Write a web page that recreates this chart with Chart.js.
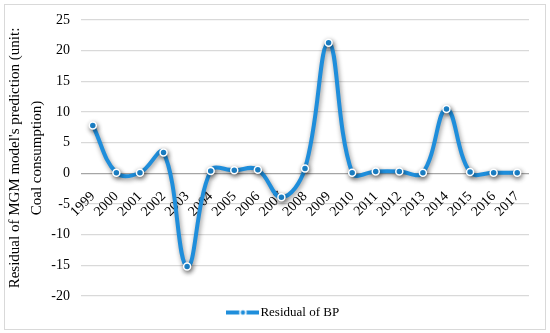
<!DOCTYPE html>
<html>
<head>
<meta charset="utf-8">
<script src="https://cdn.jsdelivr.net/npm/chart.js@4/dist/chart.umd.min.js"></script>
<style>
  html, body { margin: 0; padding: 0; background: #ffffff; }
  #wrap { width: 550px; height: 333px; position: relative; }
</style>
</head>
<body>
<div id="wrap"><canvas id="c" width="550" height="333"></canvas></div>
<script>
const years = ['1999','2000','2001','2002','2003','2004','2005','2006','2007','2008','2009','2010','2011','2012','2013','2014','2015','2016','2017'];
const residualBP = [7.8, 0.1, 0.1, 3.4, -15.2, 0.4, 0.5, 0.6, -3.9, 0.8, 21.3, 0.1, 0.3, 0.3, 0.1, 10.5, 0.2, 0.1, 0.1];
const seriesName = 'Residual of BP';
const yTitle = ["Residual of MGM model's prediction (unit:", 'Coal consumption)'];
const yMin = -20, yMax = 25, yStep = 5;

const BLUE = '#1f8edb';
const FONT = '"Liberation Serif", "Times New Roman", serif';

// legend symbol: line with a dot
const sym = document.createElement('canvas');
sym.width = 33; sym.height = 10;
(function () {
  const g = sym.getContext('2d');
  g.strokeStyle = BLUE; g.lineWidth = 4;
  g.beginPath(); g.moveTo(0, 5); g.lineTo(33, 5); g.stroke();
  g.fillStyle = BLUE; g.strokeStyle = '#ffffff'; g.lineWidth = 1.5;
  g.beginPath(); g.arc(16.5, 5, 3, 0, Math.PI * 2); g.fill(); g.stroke();
})();

const framePlugin = {
  id: 'frame',
  beforeDraw(chart) {
    const ctx = chart.ctx;
    ctx.save();
    ctx.fillStyle = '#ffffff';
    ctx.fillRect(0, 0, chart.width, chart.height);
    ctx.strokeStyle = '#d9d9d9';
    ctx.lineWidth = 1;
    ctx.strokeRect(4.5, 4.5, 541, 325);
    ctx.restore();
  }
};
const shadowPlugin = {
  id: 'shadow',
  beforeDatasetsDraw(chart) {
    const ctx = chart.ctx;
    ctx.save();
    ctx.shadowColor = 'rgba(0,0,0,0.45)';
    ctx.shadowBlur = 5;
    ctx.shadowOffsetX = 1;
    ctx.shadowOffsetY = 2;
  },
  afterDatasetsDraw(chart) {
    chart.ctx.restore();
  }
};
const legendShift = {
  id: 'legendShift',
  afterLayout(chart) {
    if (chart.legend) { chart.legend.left += 21; chart.legend.right += 21; }
  }
};

new Chart(document.getElementById('c'), {
  type: 'line',
  data: {
    labels: years,
    datasets: [{
      label: seriesName,
      data: residualBP,
      borderColor: BLUE,
      backgroundColor: BLUE,
      borderWidth: 4,
      tension: 0.4,
      pointRadius: 3.5,
      pointBackgroundColor: BLUE,
      pointBorderColor: '#ffffff',
      pointBorderWidth: 1.5,
      pointStyle: 'circle',
      fill: false
    }]
  },
  options: {
    responsive: false,
    animation: false,
    devicePixelRatio: 1,
    layout: { padding: { left: 0, right: 21, top: 20, bottom: 4 } },
    plugins: {
      legend: {
        position: 'bottom',
        labels: {
          usePointStyle: true,
          pointStyle: sym,
          pointStyleWidth: 22,
          color: '#000000',
          padding: 10,
          font: { family: FONT, size: 13 },
          generateLabels(chart) {
            return [{ text: seriesName, pointStyle: sym, fillStyle: BLUE, strokeStyle: BLUE, lineWidth: 0, datasetIndex: 0, hidden: false }];
          }
        }
      },
      tooltip: { enabled: false }
    },
    scales: {
      x: {
        type: 'category',
        position: { y: 0 },
        offset: true,
        grid: { display: false, drawTicks: false },
        border: { display: false },
        ticks: {
          autoSkip: false,
          minRotation: 45,
          maxRotation: 45,
          padding: 15,
          color: '#000000',
          font: { family: FONT, size: 14 }
        }
      },
      y: {
        min: yMin,
        max: yMax,
        afterFit(s) { s.width = 81; },
        grid: {
          drawTicks: false,
          color: (c) => (c.tick && c.tick.value === 0 ? '#a6a6a6' : '#d9d9d9'),
          lineWidth: 1.2
        },
        border: { display: false },
        ticks: {
          stepSize: yStep,
          padding: 11,
          color: '#000000',
          font: { family: FONT, size: 14 }
        },
        title: {
          display: true,
          text: yTitle,
          color: '#000000',
          padding: { top: 4, bottom: 0 },
          font: { family: FONT, size: 15, lineHeight: 1.47 }
        }
      }
    }
  },
  plugins: [framePlugin, shadowPlugin, legendShift]
});
</script>
</body>
</html>
